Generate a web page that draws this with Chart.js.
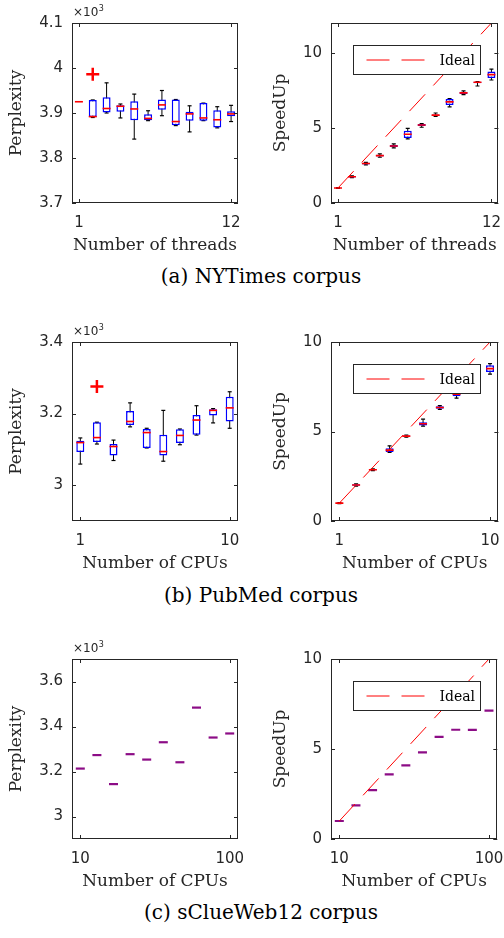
<!DOCTYPE html>
<html>
<head>
<meta charset="utf-8">
<script src="https://cdn.jsdelivr.net/npm/chart.js@4.4.0/dist/chart.umd.min.js"></script>
<style>
  body { margin: 0; background: #fff; }
  #page { position: relative; width: 504px; height: 938px; overflow: hidden; }
  canvas { position: absolute; }
  .cap { position: absolute; left: 18px; width: 486px; text-align: center;
         font-family: 'DejaVu Serif', serif; font-size: 20px; line-height: 24px; color: #000; }
</style>
</head>
<body>
<div id="page">
  <canvas id="nytPerp"  width="252" height="259" style="left:0;top:0"></canvas>
  <canvas id="nytSpeed" width="252" height="259" style="left:252px;top:0"></canvas>
  <div class="cap" style="top:264px">(a) NYTimes corpus</div>

  <canvas id="pmPerp"  width="252" height="258" style="left:0;top:319px"></canvas>
  <canvas id="pmSpeed" width="252" height="258" style="left:252px;top:319px"></canvas>
  <div class="cap" style="top:583px">(b) PubMed corpus</div>

  <canvas id="cwPerp"  width="252" height="259" style="left:0;top:636px"></canvas>
  <canvas id="cwSpeed" width="252" height="259" style="left:252px;top:636px"></canvas>
  <div class="cap" style="top:900px">(c) sClueWeb12 corpus</div>
</div>
<script>
// ---- data ----
// (a) NYTimes, number of threads
const threads = [1, 2, 3, 4, 5, 6, 7, 8, 9, 10, 11, 12];
const threadTicks = [1, 12];
const nytPerpLo  = [3925, 3890, 3900, 3889, 3842, 3883, 3894, 3872, 3858, 3883, 3867, 3881];
const nytPerpQ1  = [3925, 3891, 3901, 3903, 3884, 3884, 3907, 3873, 3883, 3883, 3868, 3893];
const nytPerpMed = [3925, 3892, 3910, 3915, 3909, 3888, 3918, 3881, 3898, 3889, 3885, 3898];
const nytPerpQ3  = [3925, 3929, 3935, 3917, 3926, 3897, 3930, 3930, 3903, 3922, 3906, 3904];
const nytPerpHi  = [3925, 3929, 3967, 3920, 3942, 3905, 3950, 3930, 3916, 3922, 3914, 3917];
const nytPerpOutX = [2];
const nytPerpOutY = [3986];
const nytPerpTicks = [3700, 3800, 3900, 4000, 4100];

const nytSpeedLo  = [0.98, 1.69, 2.54, 3.05, 3.68, 4.27, 5.05, 5.78, 6.41, 7.22, 7.80, 8.20];
const nytSpeedQ1  = [0.99, 1.70, 2.57, 3.10, 3.73, 4.33, 5.13, 5.80, 6.54, 7.27, 7.98, 8.33];
const nytSpeedMed = [1.00, 1.75, 2.63, 3.16, 3.80, 4.58, 5.20, 5.86, 6.74, 7.34, 8.05, 8.56];
const nytSpeedQ3  = [1.01, 1.80, 2.68, 3.22, 3.87, 4.82, 5.26, 5.90, 6.94, 7.42, 8.08, 8.77];
const nytSpeedHi  = [1.02, 1.81, 2.71, 3.27, 3.94, 4.98, 5.30, 6.00, 6.96, 7.47, 8.10, 8.93];
const nytIdealX = [1, 12];
const nytIdealY = [1, 12];

// (b) PubMed, number of CPUs
const pmCpus = [1, 2, 3, 4, 5, 6, 7, 8, 9, 10];
const pmCpuTicks = [1, 10];
const pmPerpLo  = [3059, 3115, 3069, 3163, 3104, 3067, 3113, 3140, 3174, 3159];
const pmPerpQ1  = [3093, 3121, 3083, 3168, 3104, 3083, 3118, 3141, 3195, 3178];
const pmPerpMed = [3119, 3133, 3108, 3178, 3147, 3094, 3139, 3182, 3209, 3216];
const pmPerpQ3  = [3124, 3176, 3115, 3207, 3157, 3141, 3156, 3196, 3212, 3247];
const pmPerpHi  = [3132, 3176, 3126, 3230, 3159, 3209, 3157, 3222, 3214, 3261];
const pmPerpOutX = [2];
const pmPerpOutY = [3276];
const pmPerpTicks = [3000, 3200, 3400];

const pmSpeedLo  = [0.97, 1.95, 2.81, 3.83, 4.68, 5.30, 6.24, 6.86, 7.70, 8.20];
const pmSpeedQ1  = [0.98, 1.97, 2.83, 3.85, 4.71, 5.33, 6.27, 6.97, 7.75, 8.33];
const pmSpeedMed = [1.00, 2.01, 2.86, 3.96, 4.74, 5.43, 6.34, 7.08, 7.85, 8.51];
const pmSpeedQ3  = [1.02, 2.05, 2.89, 4.07, 4.77, 5.52, 6.41, 7.20, 7.95, 8.70];
const pmSpeedHi  = [1.03, 2.07, 2.91, 4.20, 4.80, 5.69, 6.44, 7.25, 8.00, 8.79];
const pmIdealX = [1, 10];
const pmIdealY = [1, 10];

// (c) sClueWeb12, number of CPUs (single run each)
const cwCpus = [10, 20, 30, 40, 50, 60, 70, 80, 90, 100];
const cwCpuTicks = [10, 100];
const cwPerp  = [3213, 3273, 3144, 3277, 3253, 3330, 3241, 3484, 3351, 3369];
const cwPerpTicks = [3000, 3200, 3400, 3600];
const cwSpeed = [1.00, 1.87, 2.72, 3.59, 4.09, 4.81, 5.67, 6.07, 6.06, 7.13];
const cwIdealX = [10, 100];
const cwIdealY = [1, 10];

const speedTicks = [0, 5, 10];

// ---- drawing ----
const AXIS = '#262626';
Chart.defaults.font.family = "'DejaVu Sans', sans-serif";
Chart.defaults.font.size = 15;
Chart.defaults.color = AXIS;

// MATLAB-style boxed axes with inward ticks, x10^3 note and boxed legend
const matlabFrame = {
  id: 'matlabFrame',
  afterDatasetsDraw(chart, args, opts) {
    const { ctx, chartArea: a, scales: { x, y } } = chart;
    const tl = 4;
    ctx.save();
    ctx.strokeStyle = AXIS;
    ctx.lineWidth = 1;
    ctx.beginPath();
    x.ticks.forEach(t => {
      const px = Math.round(x.getPixelForValue(t.value)) + 0.5;
      ctx.moveTo(px, a.bottom); ctx.lineTo(px, a.bottom - tl);
      ctx.moveTo(px, a.top); ctx.lineTo(px, a.top + tl);
    });
    y.ticks.forEach(t => {
      const py = Math.round(y.getPixelForValue(t.value)) + 0.5;
      ctx.moveTo(a.left, py); ctx.lineTo(a.left + tl, py);
      ctx.moveTo(a.right, py); ctx.lineTo(a.right - tl, py);
    });
    ctx.stroke();
    ctx.strokeRect(Math.round(a.left) + 0.5, Math.round(a.top) + 0.5,
                   Math.round(a.width) - 1, Math.round(a.height) - 1);

    if (opts.exponent) {
      ctx.fillStyle = AXIS;
      ctx.textBaseline = 'alphabetic';
      ctx.font = "12px 'DejaVu Sans'";
      const bx = a.left + 1, by = a.top - 7;
      ctx.fillText('×10', bx, by);
      const w = ctx.measureText('×10').width;
      ctx.font = "8px 'DejaVu Sans'";
      ctx.fillText('3', bx + w + 0.5, by - 5);
    }

    const ds = chart.data.datasets.find(d => d.label === 'Ideal');
    if (ds) {
      const lx = Math.round(a.left + 22) + 0.5, ly = Math.round(a.top + 22) + 0.5;
      const lw = 127, lh = 29;
      ctx.fillStyle = '#fff';
      ctx.fillRect(lx, ly, lw, lh);
      ctx.strokeStyle = AXIS;
      ctx.strokeRect(lx, ly, lw, lh);
      ctx.strokeStyle = ds.borderColor;
      ctx.lineWidth = ds.borderWidth;
      ctx.setLineDash(ds.borderDash);
      ctx.beginPath();
      ctx.moveTo(lx + 13, ly + lh / 2);
      ctx.lineTo(lx + 72, ly + lh / 2);
      ctx.stroke();
      ctx.setLineDash([]);
      ctx.fillStyle = '#000';
      ctx.font = "14px 'DejaVu Serif'";
      ctx.textBaseline = 'middle';
      ctx.fillText(ds.label, lx + 86, ly + lh / 2 + 1);
    }
    ctx.restore();
  }
};
Chart.register(matlabFrame);

function panel(id, p) {
  const at = arr => p.x.map((x, i) => ({ x, y: arr[i] }));
  const span = (a, b) => p.x.map((x, i) => ({ x, y: [a[i], b[i]] }));
  const caps = p.x.flatMap((x, i) =>
    p.lo[i] === p.hi[i] ? [] : [{ x, y: p.lo[i] }, { x, y: p.hi[i] }]);

  const datasets = [
    { type: 'bar', label: 'whisker', data: span(p.lo, p.hi), backgroundColor: '#000',
      borderWidth: 0, maxBarThickness: 1, grouped: false, order: 6 },
    { type: 'scatter', label: 'cap', data: caps, pointStyle: 'line', pointRadius: 2,
      pointBorderColor: '#000', pointBorderWidth: 1.2, order: 5 },
    { type: 'bar', label: 'box', data: span(p.q1, p.q3), backgroundColor: '#fff',
      borderColor: '#0000ff', borderWidth: 1.5, borderSkipped: false,
      maxBarThickness: 8, grouped: false, order: 4 },
    { type: 'scatter', label: 'median', data: at(p.med), pointStyle: 'line',
      pointRadius: p.medRadius, pointBorderColor: p.medColor,
      pointBorderWidth: p.medWidth, order: 3 }
  ];
  if (p.outX) {
    datasets.push({ type: 'scatter', label: 'outlier',
      data: p.outX.map((x, i) => ({ x, y: p.outY[i] })),
      pointStyle: 'cross', pointRadius: 6.5, pointBorderColor: '#ff0000',
      pointBorderWidth: 2.5, order: 2 });
  }
  if (p.idealX) {
    datasets.push({ type: 'line', label: 'Ideal',
      data: p.idealX.map((x, i) => ({ x, y: p.idealY[i] })),
      borderColor: '#ff0000', borderWidth: 1, borderDash: [23, 12],
      pointRadius: 0, fill: false, order: 1 });
  }

  new Chart(document.getElementById(id), {
    type: 'scatter',
    data: { datasets },
    options: {
      responsive: false,
      animation: false,
      events: [],
      layout: { padding: { left: 0, right: p.padRight, top: 23, bottom: 0 } },
      plugins: {
        legend: { display: false },
        tooltip: { enabled: false },
        matlabFrame: { exponent: p.exponent }
      },
      scales: {
        x: {
          type: 'linear', min: p.xMin, max: p.xMax, offset: false,
          afterBuildTicks: s => { s.ticks = p.xTicks.map(v => ({ value: v })); },
          afterFit: s => { s.height = 56; s.paddingLeft = 0; s.paddingRight = 0; },
          ticks: { autoSkip: false, maxRotation: 0, padding: 11, callback: v => String(v) },
          grid: { display: false, drawTicks: false, offset: false },
          border: { display: false },
          title: { display: true, text: p.xTitle, color: AXIS,
                   font: { family: "'DejaVu Serif', serif", size: 17 },
                   padding: { top: 0, bottom: 3 } }
        },
        y: {
          type: 'linear', min: p.yMin, max: p.yMax,
          afterBuildTicks: s => { s.ticks = p.yTicks.map(v => ({ value: v })); },
          afterFit: s => { s.width = p.yWidth; s.paddingTop = 0; s.paddingBottom = 0; },
          ticks: { autoSkip: false, padding: 9, callback: p.yFmt },
          grid: { display: false, drawTicks: false },
          border: { display: false },
          title: { display: true, text: p.yTitle, color: AXIS,
                   font: { family: "'DejaVu Serif', serif", size: 17 },
                   padding: { top: p.yTitlePad, bottom: 0 } }
        }
      }
    }
  });
}

const perpFmt = v => String(v / 1000);
const plainFmt = v => String(v);

panel('nytPerp', {
  x: threads, lo: nytPerpLo, q1: nytPerpQ1, med: nytPerpMed, q3: nytPerpQ3, hi: nytPerpHi,
  outX: nytPerpOutX, outY: nytPerpOutY, medColor: '#ff0000', medWidth: 1.6, medRadius: 4,
  xMin: 0.5, xMax: 12.5, xTicks: threadTicks, xTitle: 'Number of threads',
  yMin: 3700, yMax: 4100, yTicks: nytPerpTicks, yFmt: perpFmt, yTitle: 'Perplexity',
  yWidth: 72, yTitlePad: 6.5, padRight: 14, exponent: true
});
panel('nytSpeed', {
  x: threads, lo: nytSpeedLo, q1: nytSpeedQ1, med: nytSpeedMed, q3: nytSpeedQ3, hi: nytSpeedHi,
  medColor: '#ff0000', medWidth: 1.6, medRadius: 4, idealX: nytIdealX, idealY: nytIdealY,
  xMin: 0.5, xMax: 12.5, xTicks: threadTicks, xTitle: 'Number of threads',
  yMin: 0, yMax: 12, yTicks: speedTicks, yFmt: plainFmt, yTitle: 'SpeedUp',
  yWidth: 79, yTitlePad: 18, padRight: 3, exponent: false
});
panel('pmPerp', {
  x: pmCpus, lo: pmPerpLo, q1: pmPerpQ1, med: pmPerpMed, q3: pmPerpQ3, hi: pmPerpHi,
  outX: pmPerpOutX, outY: pmPerpOutY, medColor: '#ff0000', medWidth: 1.6, medRadius: 4,
  xMin: 0.5, xMax: 10.5, xTicks: pmCpuTicks, xTitle: 'Number of CPUs',
  yMin: 2900, yMax: 3400, yTicks: pmPerpTicks, yFmt: perpFmt, yTitle: 'Perplexity',
  yWidth: 72, yTitlePad: 6.5, padRight: 14, exponent: true
});
panel('pmSpeed', {
  x: pmCpus, lo: pmSpeedLo, q1: pmSpeedQ1, med: pmSpeedMed, q3: pmSpeedQ3, hi: pmSpeedHi,
  medColor: '#ff0000', medWidth: 1.6, medRadius: 4, idealX: pmIdealX, idealY: pmIdealY,
  xMin: 0.5, xMax: 10.5, xTicks: pmCpuTicks, xTitle: 'Number of CPUs',
  yMin: 0, yMax: 10, yTicks: speedTicks, yFmt: plainFmt, yTitle: 'SpeedUp',
  yWidth: 79, yTitlePad: 18, padRight: 3, exponent: false
});
panel('cwPerp', {
  x: cwCpus, lo: cwPerp, q1: cwPerp, med: cwPerp, q3: cwPerp, hi: cwPerp,
  medColor: '#8c0c86', medWidth: 2.2, medRadius: 4.5,
  xMin: 5, xMax: 105, xTicks: cwCpuTicks, xTitle: 'Number of CPUs',
  yMin: 2900, yMax: 3700, yTicks: cwPerpTicks, yFmt: perpFmt, yTitle: 'Perplexity',
  yWidth: 72, yTitlePad: 6.5, padRight: 14, exponent: true
});
panel('cwSpeed', {
  x: cwCpus, lo: cwSpeed, q1: cwSpeed, med: cwSpeed, q3: cwSpeed, hi: cwSpeed,
  medColor: '#8c0c86', medWidth: 2.2, medRadius: 4.5, idealX: cwIdealX, idealY: cwIdealY,
  xMin: 5, xMax: 105, xTicks: cwCpuTicks, xTitle: 'Number of CPUs',
  yMin: 0, yMax: 10, yTicks: speedTicks, yFmt: plainFmt, yTitle: 'SpeedUp',
  yWidth: 79, yTitlePad: 18, padRight: 3, exponent: false
});
</script>
</body>
</html>
